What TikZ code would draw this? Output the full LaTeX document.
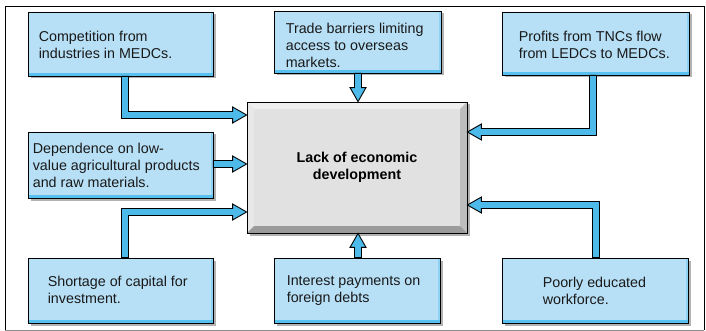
\documentclass[tikz,border=0pt]{standalone}
\usepackage{fontspec}
\setmainfont{Liberation Sans}
\usetikzlibrary{calc,shadows}
\definecolor{boxblue}{HTML}{B7E0F6}
\definecolor{boxbot}{HTML}{57C0EE}
\definecolor{boxright}{HTML}{8DD2F2}
\definecolor{arrowblue}{HTML}{4DBAE9}
\definecolor{cface}{HTML}{E1E1E1}
\definecolor{ctop}{HTML}{EFEFEF}
\definecolor{cleft}{HTML}{E8E8E8}
\definecolor{cright}{HTML}{BDBDBD}
\definecolor{cbot}{HTML}{9B9B9B}
\begin{document}
\begin{tikzpicture}[x=1pt,y=-1pt,
  every node/.style={font=\fontsize{14.3}{17}\selectfont},
  infobox/.style={draw=black, line width=0.8pt, fill=boxblue, inner sep=0pt,
    drop shadow={shadow xshift=2.5pt, shadow yshift=-2.5pt, fill=black, opacity=0.3},
    path picture={
      \fill[boxright] (path picture bounding box.north east) rectangle ($(path picture bounding box.south east)+(-2.5,-3)$);
      \fill[boxbot] (path picture bounding box.south west) rectangle ($(path picture bounding box.south east)+(0,-3)$);
    }},
  infotext/.style={anchor=west, align=left, inner sep=0pt, text=black!90},
  centerbox/.style={draw=black, line width=0.8pt, fill=cface, inner sep=0pt,
    drop shadow={shadow xshift=2.5pt, shadow yshift=-2.5pt, fill=black, opacity=0.3},
    align=center, font=\fontsize{14.3}{17}\selectfont\bfseries,
    path picture={
      \coordinate (pNW) at (path picture bounding box.north west);
      \coordinate (pNE) at (path picture bounding box.north east);
      \coordinate (pSW) at (path picture bounding box.south west);
      \coordinate (pSE) at (path picture bounding box.south east);
      \fill[ctop] (pNW) -- (pNE) -- ($(pNE)+(-7,7)$) -- ($(pNW)+(7,7)$) -- cycle;
      \fill[cleft] (pNW) -- ($(pNW)+(7,7)$) -- ($(pSW)+(7,-7)$) -- (pSW) -- cycle;
      \fill[cright] (pNE) -- ($(pNE)+(-7,7)$) -- ($(pSE)+(-7,-7)$) -- (pSE) -- cycle;
      \fill[cbot] (pSW) -- (pSE) -- ($(pSE)+(-7,-7)$) -- ($(pSW)+(7,-7)$) -- cycle;
    }},
  arr/.style={draw=black, line width=0.9pt, fill=arrowblue, line join=miter}
]
\useasboundingbox (0,0) rectangle (706,331);
\draw[line width=0.8pt] (5,6) -- (5,330);
\draw[line width=0.8pt] (5,6) -- (704,6) -- (704,330);
\draw[line width=0.8pt, black!45] (5,330) -- (704,330);

% central box
\node[centerbox, minimum width=220pt, minimum height=131pt] (c) at (357,167.5) {Lack of economic\\development};

% boxes
\node[infobox, minimum width=185pt, minimum height=64pt] (b1) at (120.5,44) {};
\node[infobox, minimum width=167pt, minimum height=62pt] (b2) at (357.5,42) {};
\node[infobox, minimum width=187pt, minimum height=63pt] (b3) at (595.5,43.5) {};
\node[infobox, minimum width=185pt, minimum height=66pt] (b4) at (120.5,165) {};
\node[infobox, minimum width=185pt, minimum height=65pt] (b5) at (120.5,290.5) {};
\node[infobox, minimum width=166pt, minimum height=65pt] (b6) at (357,290.5) {};
\node[infobox, minimum width=186pt, minimum height=65pt] (b7) at (595,290.5) {};

% texts
\node[infotext] (t1) at ($(b1.west)+(11,0.5)$) {Competition from\\industries in MEDCs.};
\node[infotext] (t2) at ($(b2.west)+(12,3)$) {Trade barriers limiting\\access to overseas\\markets.};
\node[infotext] (t3) at ($(b3.west)+(17,1)$) {Profits from TNCs flow\\from LEDCs to MEDCs.};
\node[infotext] (t4) at ($(b4.west)+(5,0)$) {Dependence on low-\\value agricultural products\\and raw materials.};
\node[infotext] (t5) at ($(b5.west)+(20,-1)$) {Shortage of capital for\\investment.};
\node[infotext] (t6) at ($(b6.west)+(13,0)$) {Interest payments on\\foreign debts};
\node[infotext] (t7) at ($(b7.west)+(41,0)$) {Poorly educated\\workforce.};

% arrow 1
\coordinate (s1) at ($(b1.south)+(4.5,0)$);
\coordinate (e1) at ($(c.west)+(0,-52.5)$);
\coordinate (k1) at (s1|-e1);
\draw[arr] ($(s1)+(-3.5,0)$) -- ($(k1)+(-3.5,3.5)$) -- ($(e1)+(-14,3.5)$) -- ($(e1)+(-14,8)$) -- (e1) -- ($(e1)+(-14,-8)$) -- ($(e1)+(-14,-3.5)$) -- ($(k1)+(3.5,-3.5)$) -- ($(s1)+(3.5,0)$) -- cycle;

% arrow 2
\coordinate (e2) at ($(c.north)+(1,0)$);
\coordinate (s2) at (e2|-b2.south);
\draw[arr] ($(s2)+(-3.5,0)$) -- ($(e2)+(-3.5,-14)$) -- ($(e2)+(-8,-14)$) -- (e2) -- ($(e2)+(8,-14)$) -- ($(e2)+(3.5,-14)$) -- ($(s2)+(3.5,0)$) -- cycle;

% arrow 3
\coordinate (s3) at ($(b3.south)+(-2.5,0)$);
\coordinate (e3) at ($(c.east)+(0,-35.5)$);
\coordinate (k3) at (s3|-e3);
\draw[arr] ($(s3)+(-3.5,0)$) -- ($(k3)+(-3.5,-3.5)$) -- ($(e3)+(14,-3.5)$) -- ($(e3)+(14,-8)$) -- (e3) -- ($(e3)+(14,8)$) -- ($(e3)+(14,3.5)$) -- ($(k3)+(3.5,3.5)$) -- ($(s3)+(3.5,0)$) -- cycle;

% arrow 4
\coordinate (e4) at ($(c.west)+(0,-3.5)$);
\coordinate (s4) at (b4.east|-e4);
\draw[arr] ($(s4)+(0,-3.5)$) -- ($(e4)+(-14,-3.5)$) -- ($(e4)+(-14,-8)$) -- (e4) -- ($(e4)+(-14,8)$) -- ($(e4)+(-14,3.5)$) -- ($(s4)+(0,3.5)$) -- cycle;

% arrow 5
\coordinate (s5) at ($(b5.north)+(4.5,0)$);
\coordinate (e5) at ($(c.west)+(0,44.5)$);
\coordinate (k5) at (s5|-e5);
\draw[arr] ($(s5)+(-3.5,0)$) -- ($(k5)+(-3.5,-3.5)$) -- ($(e5)+(-14,-3.5)$) -- ($(e5)+(-14,-8)$) -- (e5) -- ($(e5)+(-14,8)$) -- ($(e5)+(-14,3.5)$) -- ($(k5)+(3.5,3.5)$) -- ($(s5)+(3.5,0)$) -- cycle;

% arrow 6
\coordinate (e6) at ($(c.south)+(1,0)$);
\coordinate (s6) at (e6|-b6.north);
\draw[arr] ($(s6)+(-3.5,0)$) -- ($(e6)+(-3.5,14)$) -- ($(e6)+(-8,14)$) -- (e6) -- ($(e6)+(8,14)$) -- ($(e6)+(3.5,14)$) -- ($(s6)+(3.5,0)$) -- cycle;

% arrow 7
\coordinate (s7) at ($(b7.north)+(1,0)$);
\coordinate (e7) at ($(c.east)+(0,37.5)$);
\coordinate (k7) at (s7|-e7);
\draw[arr] ($(s7)+(3.5,0)$) -- ($(k7)+(3.5,-3.5)$) -- ($(e7)+(14,-3.5)$) -- ($(e7)+(14,-8)$) -- (e7) -- ($(e7)+(14,8)$) -- ($(e7)+(14,3.5)$) -- ($(k7)+(-3.5,3.5)$) -- ($(s7)+(-3.5,0)$) -- cycle;
\end{tikzpicture}
\end{document}
